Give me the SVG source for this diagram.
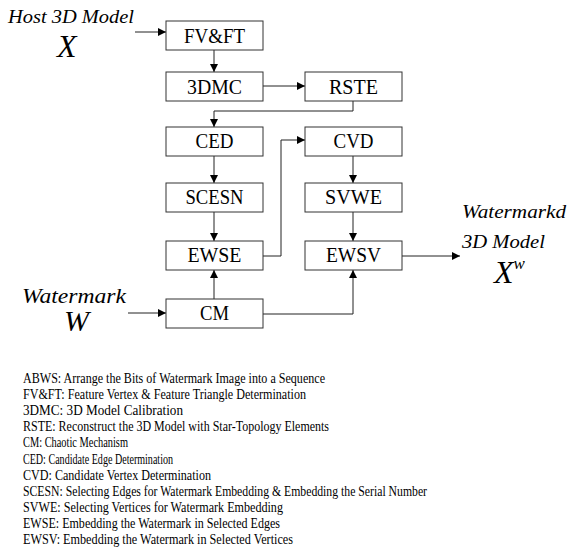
<svg xmlns="http://www.w3.org/2000/svg" width="567" height="551" viewBox="0 0 567 551">
  <style>
    .box rect { fill: #fff; stroke: #333; stroke-width: 1; }
    .box text { font-size: 22px; fill: #000; text-anchor: middle; }
    .lbl { font-style: italic; fill: #000; }
    .wire { fill: none; stroke: #222; stroke-width: 1; }
    .legend text { font-size: 14px; fill: #000; }
  </style>
  <defs>
    <marker id="arr" viewBox="0 0 10 10" refX="10" refY="5" markerWidth="8" markerHeight="8" markerUnits="userSpaceOnUse" orient="auto">
      <path d="M0,0 L10,5 L0,10 Z" fill="#000"/>
    </marker>
  </defs>

  <g font-family="'Liberation Serif', 'Times New Roman', 'DejaVu Serif', serif">
    <!-- input / output labels -->
    <text class="lbl" x="8" y="23" font-size="19" textLength="126" lengthAdjust="spacingAndGlyphs">Host 3D Model</text>
    <text class="lbl" x="57" y="57" font-size="32">X</text>
    <text class="lbl" x="22" y="303" font-size="20" textLength="104" lengthAdjust="spacingAndGlyphs">Watermark</text>
    <text class="lbl" x="64" y="331" font-size="30">W</text>
    <text class="lbl" x="462" y="218" font-size="19" textLength="104" lengthAdjust="spacingAndGlyphs">Watermarkd</text>
    <text class="lbl" x="462" y="248" font-size="19" textLength="83" lengthAdjust="spacingAndGlyphs">3D Model</text>
    <text class="lbl" x="494" y="283" font-size="32">X<tspan font-size="17" dy="-14">w</tspan></text>

    <!-- connectors -->
    <g id="connectors">
      <path class="wire" d="M135,32 H166" marker-end="url(#arr)"/>
      <path class="wire" d="M214,50 V72" marker-end="url(#arr)"/>
      <path class="wire" d="M263,86 H305" marker-end="url(#arr)"/>
      <path class="wire" d="M353,101 V111 H214 V127" marker-end="url(#arr)"/>
      <path class="wire" d="M214,156 V183" marker-end="url(#arr)"/>
      <path class="wire" d="M214,212 V241" marker-end="url(#arr)"/>
      <path class="wire" d="M214,299 V270" marker-end="url(#arr)"/>
      <path class="wire" d="M263,256 H281 V140 H305" marker-end="url(#arr)"/>
      <path class="wire" d="M353,156 V183" marker-end="url(#arr)"/>
      <path class="wire" d="M353,212 V241" marker-end="url(#arr)"/>
      <path class="wire" d="M263,314 H353 V270" marker-end="url(#arr)"/>
      <path class="wire" d="M402,256 H460" marker-end="url(#arr)"/>
      <path class="wire" d="M128,313 H166" marker-end="url(#arr)"/>
    </g>

    <!-- process blocks -->
    <g id="fvft" class="box"><rect x="166" y="21" width="97" height="29"/><text x="214.5" y="43" textLength="61" lengthAdjust="spacingAndGlyphs">FV&amp;FT</text></g>
    <g id="dmc" class="box"><rect x="166" y="72" width="97" height="29"/><text x="214.5" y="94" textLength="55" lengthAdjust="spacingAndGlyphs">3DMC</text></g>
    <g id="rste" class="box"><rect x="305" y="72" width="97" height="29"/><text x="353.5" y="94" textLength="49" lengthAdjust="spacingAndGlyphs">RSTE</text></g>
    <g id="ced" class="box"><rect x="166" y="127" width="97" height="29"/><text x="214.5" y="148" textLength="38" lengthAdjust="spacingAndGlyphs">CED</text></g>
    <g id="cvd" class="box"><rect x="305" y="127" width="97" height="29"/><text x="353.5" y="148" textLength="40" lengthAdjust="spacingAndGlyphs">CVD</text></g>
    <g id="scesn" class="box"><rect x="166" y="183" width="97" height="29"/><text x="214.5" y="204" textLength="58" lengthAdjust="spacingAndGlyphs">SCESN</text></g>
    <g id="svwe" class="box"><rect x="305" y="183" width="97" height="29"/><text x="353.5" y="204" textLength="57" lengthAdjust="spacingAndGlyphs">SVWE</text></g>
    <g id="ewse" class="box"><rect x="166" y="241" width="97" height="29"/><text x="214.5" y="262" textLength="54" lengthAdjust="spacingAndGlyphs">EWSE</text></g>
    <g id="ewsv" class="box"><rect x="305" y="241" width="97" height="29"/><text x="353.5" y="262" textLength="55" lengthAdjust="spacingAndGlyphs">EWSV</text></g>
    <g id="cm" class="box"><rect x="166" y="299" width="97" height="29"/><text x="214.5" y="320" textLength="29" lengthAdjust="spacingAndGlyphs">CM</text></g>

    <!-- abbreviation list -->
    <g class="legend">
      <text x="23" y="383" textLength="302" lengthAdjust="spacingAndGlyphs">ABWS: Arrange the Bits of Watermark Image into a Sequence</text>
      <text x="23" y="399" textLength="283" lengthAdjust="spacingAndGlyphs">FV&amp;FT: Feature Vertex &amp; Feature Triangle Determination</text>
      <text x="23" y="415" textLength="160" lengthAdjust="spacingAndGlyphs">3DMC: 3D Model Calibration</text>
      <text x="23" y="431" textLength="306" lengthAdjust="spacingAndGlyphs">RSTE: Reconstruct the 3D Model with Star-Topology Elements</text>
      <text x="23" y="447" textLength="105" lengthAdjust="spacingAndGlyphs">CM: Chaotic Mechanism</text>
      <text x="23" y="464" textLength="150" lengthAdjust="spacingAndGlyphs">CED: Candidate Edge Determination</text>
      <text x="23" y="480" textLength="188" lengthAdjust="spacingAndGlyphs">CVD: Candidate Vertex Determination</text>
      <text x="23" y="496" textLength="404" lengthAdjust="spacingAndGlyphs">SCESN: Selecting Edges for Watermark Embedding &amp; Embedding the Serial Number</text>
      <text x="23" y="512" textLength="260" lengthAdjust="spacingAndGlyphs">SVWE: Selecting Vertices for Watermark Embedding</text>
      <text x="23" y="528" textLength="257" lengthAdjust="spacingAndGlyphs">EWSE: Embedding the Watermark in Selected Edges</text>
      <text x="23" y="544" textLength="270" lengthAdjust="spacingAndGlyphs">EWSV: Embedding the Watermark in Selected Vertices</text>
    </g>
  </g>
</svg>
